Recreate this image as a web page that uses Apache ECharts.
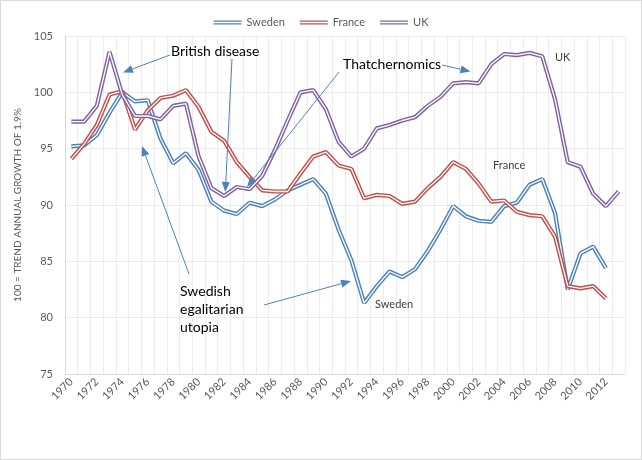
<!DOCTYPE html>
<html><head><meta charset="utf-8">
<script src="https://cdn.jsdelivr.net/npm/echarts@6/dist/echarts.min.js"></script>
<style>html,body{margin:0;padding:0;background:#fff}#c{width:640px;height:458px;border:1px solid #d9d9d9}</style>
</head><body><div id="c"></div>
<script>
const years = [];
for (let y = 1970; y <= 2013; y++) years.push(String(y));
const sweden = [95.2,95.3,96.2,98.2,100.0,99.2,99.3,95.9,93.7,94.6,93.1,90.3,89.5,89.2,90.2,89.9,90.5,91.3,91.8,92.3,91.0,87.8,85.1,81.3,82.8,84.1,83.6,84.3,85.9,87.8,89.9,89.0,88.6,88.5,89.9,90.2,91.8,92.3,89.3,82.5,85.7,86.3,84.4,null];
const france = [94.1,95.4,97.1,99.8,100.1,96.7,98.4,99.5,99.7,100.2,98.7,96.5,95.7,93.8,92.5,91.3,91.2,91.2,92.8,94.3,94.7,93.5,93.2,90.6,90.9,90.8,90.1,90.3,91.5,92.5,93.8,93.2,91.9,90.3,90.4,89.4,89.1,89.0,87.2,82.8,82.6,82.8,81.7,null];
const uk = [97.4,97.4,98.8,103.6,99.8,97.9,97.9,97.6,98.8,99.0,94.3,91.5,90.8,91.6,91.4,92.6,94.9,97.5,100.0,100.2,98.5,95.6,94.3,95.0,96.8,97.1,97.5,97.8,98.8,99.6,100.8,100.9,100.8,102.5,103.4,103.3,103.5,103.2,99.4,93.8,93.4,91.0,89.9,91.2];
const seriesNames = ['Sweden','France','UK'];
const colors = ['#4F81BD','#C0504D','#8064A2'];
const yTicks = {min:75, max:105, interval:5};

const chart = echarts.init(document.getElementById('c'));
const FONT = 'Lato, "Open Sans", sans-serif';
const data = [sweden, france, uk];
const series = [];
seriesNames.forEach((n,i)=>{
  series.push({name:n,type:'line',data:data[i],symbol:'none',lineStyle:{width:4.2,color:colors[i]},itemStyle:{color:colors[i]},z:2+i*2,animation:false});
});
seriesNames.forEach((n,i)=>{
  series.push({name:n+'_w',type:'line',data:data[i],symbol:'none',lineStyle:{width:1.3,color:'#ffffff'},z:3+i*2,animation:false,silent:true});
});

function arrow(x1,y1,x2,y2){
  const a=Math.atan2(y2-y1,x2-x1), L=10, W=4;
  const bx=x2-L*Math.cos(a), by=y2-L*Math.sin(a);
  const px=-Math.sin(a)*W, py=Math.cos(a)*W;
  return [
    {type:'line',shape:{x1:x1,y1:y1,x2:bx,y2:by},style:{stroke:'#4F81BD',lineWidth:1},z:50},
    {type:'polygon',shape:{points:[[x2,y2],[bx+px,by+py],[bx-px,by-py]]},style:{fill:'#4F81BD'},z:50}
  ];
}
const txt=(x,y,t,fs,col)=>({type:'text',x:x,y:y,style:{text:t,font:fs+'px '+FONT,fill:col,lineHeight:18},z:60});
const graphics=[].concat(
  arrow(169,54,122,71.5),
  arrow(231,58,224.3,191),
  arrow(338,71,246,186),
  arrow(441,64,469.5,70.5),
  arrow(188,273,141,145),
  arrow(263,304,350,280),
  [txt(170,41,'British disease',14,'#000'),
   txt(342,54,'Thatchernomics',14,'#000'),
   txt(179,281,'Swedish\negalitarian\nutopia',14,'#000'),
   txt(554,47,'UK',11,'#404040'),
   txt(492,155,'France',11,'#404040'),
   txt(374,294,'Sweden',11,'#404040')]
);

chart.setOption({
  animation:false,
  textStyle:{fontFamily:FONT},
  legend:{data:seriesNames.map((n,i)=>({name:n,icon:'path://M0,0H30V1.2H0Z M0,3H30V4.2H0Z'})),top:11,left:'center',itemWidth:28,itemHeight:5,itemGap:15,
    textStyle:{fontSize:11,color:'#595959',fontFamily:FONT}},
  grid:{left:64,right:16,top:35,bottom:85,containLabel:false},
  xAxis:{type:'category',data:years,boundaryGap:true,
    axisLine:{lineStyle:{color:'#d9d9d9'}},axisTick:{show:false},
    axisLabel:{interval:1,rotate:45,fontSize:11,color:'#595959',fontFamily:FONT,margin:6},
    splitLine:{show:true,interval:0,lineStyle:{color:'#ececec'}}},
  yAxis:{type:'value',min:yTicks.min,max:yTicks.max,interval:yTicks.interval,
    name:'100 = TREND ANNUAL GROWTH OF 1.9%',nameLocation:'middle',nameGap:38,
    nameTextStyle:{fontSize:10,color:'#595959',fontFamily:FONT},
    axisLine:{show:true,lineStyle:{color:'#d9d9d9'}},axisTick:{show:false},
    axisLabel:{fontSize:11,color:'#595959',fontFamily:FONT,margin:12},
    splitLine:{lineStyle:{color:'#ececec'}}},
  series:series,
  graphic:graphics
});
</script></body></html>
